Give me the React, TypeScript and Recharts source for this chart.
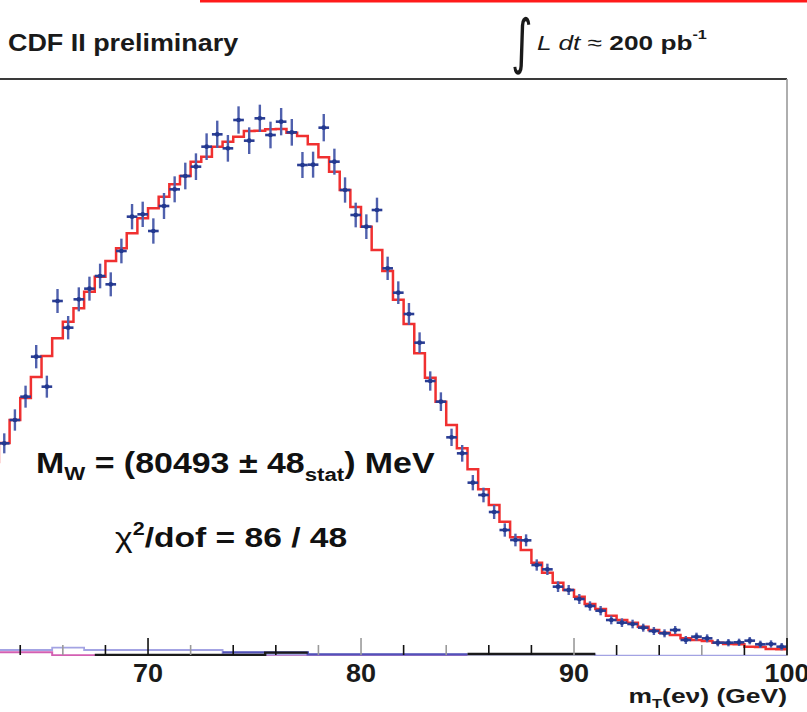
import React from 'react';
import { ComposedChart, Line, Scatter, ErrorBar, XAxis, YAxis, ReferenceLine } from 'recharts';

// ---- data: measured transverse mass spectrum (0.5 GeV bins) ----
const binCenters = [
  63.25, 63.75, 64.25, 64.75, 65.25, 65.75, 66.25, 66.75, 67.25, 67.75,
  68.25, 68.75, 69.25, 69.75, 70.25, 70.75, 71.25, 71.75, 72.25, 72.75,
  73.25, 73.75, 74.25, 74.75, 75.25, 75.75, 76.25, 76.75, 77.25, 77.75,
  78.25, 78.75, 79.25, 79.75, 80.25, 80.75, 81.25, 81.75, 82.25, 82.75,
  83.25, 83.75, 84.25, 84.75, 85.25, 85.75, 86.25, 86.75, 87.25, 87.75,
  88.25, 88.75, 89.25, 89.75, 90.25, 90.75, 91.25, 91.75, 92.25, 92.75,
  93.25, 93.75, 94.25, 94.75, 95.25, 95.75, 96.25, 96.75, 97.25, 97.75,
  98.25, 98.75, 99.25, 99.75,
];
const dataCounts = [
  638, 708, 778, 898, 808, 1065, 985, 1070, 1102, 1140,
  1115, 1215, 1318, 1325, 1275, 1350, 1400, 1440, 1468, 1528,
  1565, 1523, 1608, 1546, 1613, 1563, 1603, 1571, 1473, 1474,
  1585, 1483, 1398, 1323, 1288, 1338, 1163, 1090, 1026, 940,
  825, 763, 656, 608, 520, 483, 432, 378, 348, 347,
  273, 260, 208, 198, 171, 150, 136, 108, 100, 96,
  85, 75, 68, 78, 48, 58, 53, 40, 40, 41,
  46, 35, 36, 28,
];
const dataErrors = [
  30, 32, 33, 35, 33, 36, 35, 36, 36, 37,
  36, 37, 38, 38, 38, 39, 39, 40, 40, 40,
  41, 40, 41, 40, 41, 40, 41, 40, 39, 39,
  41, 39, 38, 37, 37, 37, 35, 34, 33, 31,
  29, 28, 26, 25, 23, 22, 21, 20, 19, 18,
  17, 17, 16, 15, 15, 14, 14, 13, 13, 13,
  12, 12, 12, 12, 12, 12, 12, 11, 11, 11,
  11, 11, 11, 11,
];
const halfBin = 0.25;

// ---- simulation (fit template) ----
const modelCenters = [62.75, ...binCenters];
const modelCounts = [
  582,
  639, 708, 774, 837, 900, 953, 1003, 1043, 1093, 1138,
  1185, 1223, 1268, 1313, 1343, 1378, 1415, 1440, 1483, 1498,
  1528, 1543, 1558, 1575, 1576, 1580, 1581, 1570, 1560, 1535,
  1496, 1453, 1398, 1347, 1288, 1218, 1155, 1069, 996, 908,
  835, 763, 693, 623, 560, 500, 453, 403, 356, 318,
  280, 250, 220, 198, 178, 156, 141, 121, 108, 100,
  88, 78, 70, 63, 53, 48, 45, 40, 36, 35,
  28, 27, 21, 20,
];

// ---- backgrounds (bin edges + levels) ----
const bkgPinkEdges = [62.5, 65.5, 75.0, 85.0];
const bkgPinkLevels = [11, 2, 1];
const bkgLavenderEdges = [62.5, 65.5, 67.0, 73.5, 91.0, 100];
const bkgLavenderLevels = [18, 25, 18, 4, 1];
const bkgBlueEdges = [73.5, 77.5, 85.0];
const bkgBlueLevels = [11, 5];
const bkgBlackAEdges = [67.5, 75.5, 77.5];
const bkgBlackALevels = [3, 10];
const bkgBlackBEdges = [85.0, 91.0];
const bkgBlackBLevels = [6];

const xTicks = [64, 66, 68, 70, 72, 74, 76, 78, 80, 82, 84, 86, 88, 90, 92, 94, 96, 98, 100];
const xLabels = [70, 80, 90, 100];
const lightTicks = [66, 72, 78, 80, 84, 90, 96];

const X_MIN = 63.05;
const X_MAX = 100;
const Y_MAX = 1731;

const points = binCenters.map((x, i) => ({ x, y: dataCounts[i], ey: dataErrors[i], ex: halfBin }));
const modelData = modelCenters.map((x, i) => ({ x, v: modelCounts[i] }));
modelData.push({ x: 100, v: modelCounts[modelCounts.length - 1] });

const stepData = (edges: number[], levels: number[]) =>
  edges.map((x, i) => ({ x, v: levels[Math.min(i, levels.length - 1)] }));

const FONT = '"Liberation Sans", Arial, Helvetica, sans-serif';

const Tick = (props: any) => {
  const { x, y, payload } = props;
  const v = payload.value;
  const major = xLabels.includes(v);
  const len = major ? 17 : 10;
  const col = lightTicks.includes(v) ? '#9a9a9a' : '#111';
  return (
    <g>
      <line x1={x} x2={x} y1={y - 1} y2={y - 1 - len} stroke={col} strokeWidth={1.6} />
      {major && (
        <g transform={`translate(${x},${y + 26}) scale(1.08,1)`}>
          <text x={0} y={0} textAnchor="middle" fontFamily={FONT} fontWeight="bold" fontSize={25} fill="#1a1a1a">
            {v}
          </text>
        </g>
      )}
    </g>
  );
};

const Cross = (p: any) => <circle cx={p.cx} cy={p.cy} r={2.3} fill="#22388f" />;

export default function App() {
  return (
    <div style={{ position: 'absolute', left: 0, top: 0, width: 807, height: 712, overflow: 'hidden', background: '#fff' }}>
      <ComposedChart width={807} height={712} margin={{ top: 79, right: 20, bottom: 26, left: 0 }}>
        <XAxis
          type="number"
          dataKey="x"
          domain={[X_MIN, X_MAX]}
          allowDataOverflow
          ticks={xTicks}
          tick={<Tick />}
          tickSize={0}
          tickMargin={0}
          axisLine={false}
          tickLine={false}
          height={30}
          interval={0}
        />
        <YAxis hide type="number" domain={[0, Y_MAX]} allowDataOverflow />
        <Line data={stepData(bkgPinkEdges, bkgPinkLevels)} dataKey="v" type="stepAfter" stroke="#d35fb2" strokeWidth={2} dot={false} isAnimationActive={false} />
        <Line data={stepData(bkgLavenderEdges, bkgLavenderLevels)} dataKey="v" type="stepAfter" stroke="#a3a3e3" strokeWidth={1.8} dot={false} isAnimationActive={false} />
        <Line data={stepData(bkgBlueEdges, bkgBlueLevels)} dataKey="v" type="stepAfter" stroke="#5252b8" strokeWidth={2.4} dot={false} isAnimationActive={false} />
        <Line data={stepData(bkgBlackAEdges, bkgBlackALevels)} dataKey="v" type="stepAfter" stroke="#1a1a1a" strokeWidth={2.4} dot={false} isAnimationActive={false} />
        <Line data={stepData(bkgBlackBEdges, bkgBlackBLevels)} dataKey="v" type="stepAfter" stroke="#1a1a1a" strokeWidth={2.4} dot={false} isAnimationActive={false} />
        <Line data={modelData} dataKey="v" type="step" stroke="#f03030" strokeWidth={2.5} dot={false} isAnimationActive={false} />
        <Scatter data={points} dataKey="y" shape={<Cross />} isAnimationActive={false}>
          <ErrorBar dataKey="ey" direction="y" width={0} stroke="#4f60ad" strokeWidth={2.4} isAnimationActive={false} />
          <ErrorBar dataKey="ex" direction="x" width={0} stroke="#2a3d94" strokeWidth={2.6} isAnimationActive={false} />
        </Scatter>
        <ReferenceLine y={Y_MAX} stroke="#3a3a3a" strokeWidth={2} ifOverflow="visible" />
        <ReferenceLine x={X_MAX} stroke="#9a9a9a" strokeWidth={1.6} ifOverflow="visible" />
      </ComposedChart>
      <svg width={807} height={712} style={{ position: 'absolute', left: 0, top: 0, pointerEvents: 'none' }}>
        <rect x={200} y={0} width={607} height={2.5} fill="#ff1a1a" />
        <g transform="translate(8,51) scale(1.17,1)">
          <text x={0} y={0} fontFamily={FONT} fontWeight="bold" fontSize={23} fill="#1a1a1a">CDF II preliminary</text>
        </g>
        <g transform="translate(511,62) scale(0.8,1.15)">
          <text x={0} y={0} fontFamily={'"DejaVu Sans", sans-serif'} fontSize={52} fill="#1a1a1a">∫</text>
        </g>
        <g transform="translate(537,50) scale(1.25,1)">
          <text x={0} y={0} fontFamily={FONT} fontSize={21} fill="#1a1a1a">
            <tspan fontStyle="italic">L dt</tspan>
            <tspan> ≈ </tspan>
            <tspan fontWeight="bold">200 pb</tspan>
            <tspan fontWeight="bold" fontSize={13} dy={-11}>-1</tspan>
          </text>
        </g>
        <g transform="translate(36,473) scale(1.17,1)">
          <text x={0} y={0} fontFamily={FONT} fontWeight="bold" fontSize={29} fill="#111">
            <tspan>M</tspan>
            <tspan fontSize={19} dy={7}>W</tspan>
            <tspan dy={-7}> = (80493 ± 48</tspan>
            <tspan fontSize={19} dy={8}>stat</tspan>
            <tspan dy={-8}>) MeV</tspan>
          </text>
        </g>
        <g transform="translate(115,547) scale(1.2,1)">
          <text x={0} y={0} fontFamily={FONT} fontWeight="bold" fontSize={28} fill="#111">
            <tspan fontWeight="normal">χ</tspan>
            <tspan fontSize={18} dy={-12}>2</tspan>
            <tspan dy={12}>/dof = 86 / 48</tspan>
          </text>
        </g>
        <g transform="translate(787,703) scale(1.26,1)">
          <text x={0} y={0} textAnchor="end" fontFamily={FONT} fontWeight="bold" fontSize={21} fill="#1a1a1a">
            <tspan>m</tspan>
            <tspan fontSize={13} dy={5}>T</tspan>
            <tspan dy={-5}>(eν) (GeV)</tspan>
          </text>
        </g>
      </svg>
    </div>
  );
}
